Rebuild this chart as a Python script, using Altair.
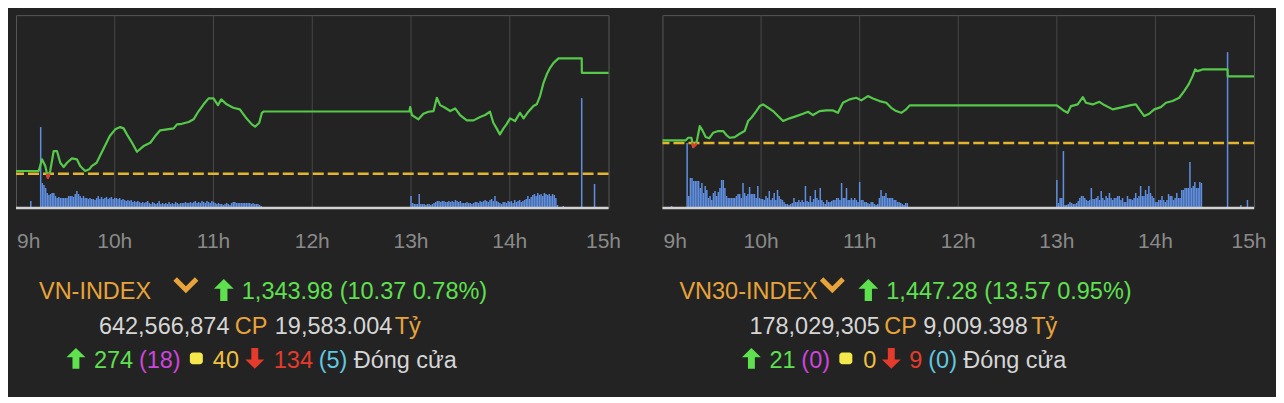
import altair as alt
import pandas as pd

BG = "#232323"
FONT = "Liberation Sans, DejaVu Sans, Arial, sans-serif"
HOURS = ["9h", "10h", "11h", "12h", "13h", "14h", "15h"]
TICKS = [0, 60, 120, 180, 240, 300, 360]   # minutes after 9:00

# ---------------- VN-INDEX ----------------
VN_REF = 1333.61
VN_T = [0, 13.8, 15.8, 17.8, 19.4, 20.8, 22.9, 24.9, 26.9, 29,
        31, 34, 37, 39, 42, 44.5, 46, 49, 51, 54,
        57, 60.3, 63.3, 65.4, 67.4, 70.5, 73.5, 77.5, 81.6, 84.6,
        87.6, 91.7, 95.8, 97.8, 100.8, 104.9, 107.9, 111, 114, 117,
        120, 122.7, 124.7, 128, 132, 136, 140, 143.3, 145.3, 147.8,
        149.4, 150.5, 239, 239.5, 240.5, 244.5, 247.5, 250.6, 253.7, 255.7,
        257.7, 260.7, 263.8, 266.8, 269.8, 273.9, 278, 282, 285, 288,
        290, 292, 294, 296.2, 298, 300.2, 303.2, 306.2, 308.4, 311.3,
        314.4, 316.4, 318.4, 320.5, 322.5, 324.5, 326.6, 329.6, 343.7, 343.8,
        360]
VN_V = [1333.89, 1333.89, 1335.09, 1334.4, 1333.2, 1333.89, 1335.94, 1335.94, 1334.74, 1334.3,
        1334.74, 1335.19, 1335.09, 1334.4, 1333.89, 1334.06, 1334.4, 1334.74, 1335.43, 1336.45,
        1337.48, 1338.17, 1338.4, 1338.27, 1337.65, 1336.79, 1335.87, 1336.45, 1336.79, 1337.48,
        1338.07, 1338.17, 1338.27, 1338.68, 1338.74, 1338.92, 1339.2, 1340.05, 1340.74, 1341.35,
        1341.35, 1340.66, 1341.25, 1340.74, 1340.39, 1340.22, 1339.3, 1338.68, 1338.44, 1338.85,
        1339.87, 1340.0, 1340.0, 1340.46, 1339.64, 1339.2, 1339.77, 1339.98, 1340.05, 1341.41,
        1340.66, 1340.39, 1340.05, 1340.32, 1339.64, 1339.09, 1339.09, 1339.43, 1339.64, 1339.98,
        1338.85, 1338.27, 1337.65, 1338.27, 1338.68, 1339.3, 1339.02, 1339.87, 1339.3, 1339.98,
        1340.56, 1340.74, 1341.59, 1342.95, 1343.82, 1344.49, 1345.0, 1345.46, 1345.46, 1343.98,
        1343.98]
VN_YDOM = [1330.09, 1349.9]
# volume per minute, 9:15 .. 11:29
VN_VOL_AM = [81, 25, 23, 20, 15, 13, 14, 15, 15, 12,
             10, 11, 10, 10, 10, 10, 10, 12, 12, 12,
             11, 14, 17, 14, 12, 10, 12, 10, 10, 9,
             10, 9, 9, 8, 10, 12, 9, 11, 9, 10,
             11, 9, 10, 11, 9, 10, 10, 9, 10, 8,
             9, 8, 7, 8, 7, 8, 6, 7, 6, 7,
             6, 5, 6, 5, 6, 7, 5, 4, 6, 5,
             4, 5, 7, 4, 5, 4, 5, 4, 6, 4,
             5, 4, 6, 5, 4, 5, 5, 5, 6, 5,
             5, 6, 5, 6, 7, 5, 6, 5, 7, 6,
             5, 7, 6, 5, 7, 6, 5, 4, 5, 4,
             4, 3, 4, 5, 4, 3, 5, 6, 6, 5,
             5, 5, 5, 5, 5, 5, 5, 5, 4, 5,
             4, 4, 4, 3, 2]
# volume per minute, 13:00 .. 14:29
VN_VOL_PM = [12, 5, 4, 4, 4, 14, 4, 4, 4, 3,
             4, 4, 3, 4, 5, 6, 7, 7, 6, 7,
             7, 6, 6, 7, 6, 7, 6, 8, 7, 6,
             7, 5, 5, 5, 6, 5, 5, 4, 5, 6,
             6, 5, 7, 6, 7, 8, 7, 6, 8, 9,
             7, 12, 7, 6, 5, 4, 6, 6, 5, 7,
             6, 7, 5, 8, 6, 7, 8, 6, 7, 8,
             9, 12, 9, 11, 13, 14, 12, 15, 13, 14,
             12, 15, 14, 13, 14, 12, 14, 13, 10, 3]
VN_VOL_XT = [9, 332.5, 343.7, 351.5]
VN_VOL_XV = [7, 2, 110, 24]

# ---------------- VN30-INDEX ----------------
V30_REF = 1433.71
V30_T = [0, 14.2, 15.6, 17.6, 18.7, 20.3, 21, 22.7, 24.3, 26.3,
         28.4, 30.8, 33.9, 36.9, 38.9, 40.9, 44, 47, 50, 52.1,
         54.1, 57.1, 59.2, 61.2, 64.3, 67.3, 70.3, 73.4, 77.4, 81.5,
         85.5, 88.6, 91.6, 95.6, 99.7, 103.8, 106.8, 109.8, 113.9, 117.9,
         121, 125, 128.1, 132.1, 136.2, 139.2, 142.2, 145.3, 148.3, 150.5,
         240, 244.6, 246.6, 248.6, 252.7, 255.8, 257.7, 261.8, 265.9, 268.9,
         274, 280.1, 285.1, 288.1, 290.2, 293.2, 296.2, 299.3, 303.3, 306.4,
         310.4, 314.5, 317.5, 320.2, 322.6, 324.2, 325.6, 328.7, 343.9, 344.0,
         360]
V30_V = [1434.26, 1434.26, 1434.79, 1434.79, 1432.9, 1433.45, 1434.26, 1437.17, 1436.29, 1434.93,
         1434.67, 1435.8, 1436.15, 1436.15, 1435.34, 1434.79, 1434.93, 1435.6, 1436.15, 1438.19,
         1438.86, 1440.22, 1441.24, 1441.58, 1440.89, 1440.22, 1439.2, 1438.19, 1438.74, 1439.2,
         1439.67, 1440.08, 1439.41, 1440.22, 1440.36, 1440.36, 1439.87, 1441.91, 1442.6, 1442.93,
         1442.4, 1443.27, 1442.8, 1442.26, 1441.91, 1440.89, 1440.22, 1439.87, 1440.57, 1441.38,
         1441.38, 1440.22, 1439.87, 1441.24, 1441.58, 1443.07, 1441.91, 1441.58, 1442.11, 1441.44,
         1440.57, 1441.03, 1441.44, 1441.58, 1440.57, 1439.2, 1439.67, 1440.57, 1441.03, 1441.91,
         1442.26, 1442.93, 1444.29, 1445.65, 1447.34, 1448.7, 1448.36, 1448.7, 1448.7, 1447.28,
         1447.28]
V30_YDOM = [1420.49, 1459.75]
V30_VOL_AM = [65, 12, 30, 30, 27, 27, 27, 27, 20, 25,
              15, 22, 18, 10, 12, 8, 15, 17, 12, 16,
              20, 28, 28, 20, 12, 10, 10, 10, 10, 10,
              12, 14, 14, 10, 25, 15, 12, 14, 21, 14,
              14, 14, 10, 22, 10, 9, 9, 8, 12, 10,
              17, 8, 10, 15, 8, 18, 12, 9, 8, 6,
              4, 4, 3, 4, 5, 10, 6, 6, 8, 6,
              8, 6, 22, 7, 6, 12, 6, 9, 18, 10,
              8, 20, 8, 6, 4, 8, 6, 6, 7, 8,
              8, 10, 10, 8, 25, 10, 10, 20, 8, 8,
              10, 8, 10, 8, 6, 26, 8, 8, 6, 6,
              5, 4, 6, 6, 4, 3, 4, 10, 18, 12,
              12, 15, 10, 10, 10, 10, 8, 8, 6, 6,
              5, 4, 3, 5, 5]
V30_VOL_PM = [28, 5, 10, 10, 57, 3, 3, 4, 6, 5,
              4, 4, 5, 7, 10, 12, 12, 10, 8, 7,
              8, 20, 9, 9, 10, 12, 8, 17, 10, 8,
              12, 10, 15, 10, 8, 10, 10, 12, 12, 8,
              10, 6, 6, 12, 9, 9, 8, 10, 15, 10,
              12, 22, 12, 12, 18, 14, 22, 15, 12, 10,
              6, 6, 8, 8, 12, 8, 6, 8, 14, 12,
              12, 8, 10, 15, 10, 10, 18, 18, 20, 20,
              20, 46, 20, 22, 26, 20, 20, 26, 25]
V30_VOL_XT = [5.5, 343.9, 352, 356]
V30_VOL_XV = [2, 156, 3, 8]

# ---------------- text rows ----------------
VN_TITLE = "VN-INDEX"
VN_PRICE = "1,343.98 (10.37 0.78%)"
VN_LINE2 = ["642,566,874", "CP", "19,583.004", "Tỷ"]
VN_LINE3 = ["274", "(18)", "40", "134", "(5)", "Đóng cửa"]
V30_TITLE = "VN30-INDEX"
V30_PRICE = "1,447.28 (13.57 0.95%)"
V30_LINE2 = ["178,029,305", "CP", "9,009.398", "Tỷ"]
V30_LINE3 = ["21", "(0)", "0", "9", "(0)", "Đóng cửa"]

ORANGE = "#e8a33a"
GREEN_T = "#5fe04f"
GREY_T = "#d6d6d6"
MAGENTA = "#d044de"
YELLOW_SQ = "#f4e84a"
YELLOW_T = "#f0c040"
RED = "#e53b2c"
CYAN = "#60c8e0"
LINE_GREEN = "#56c94b"
BAR_BLUE = "#5f8fe0"
REF_YELLOW = "#e2b52c"
AXIS_GREY = "#8a8a8a"

UP = "M0,-1 L0.9,-0.1 L0.33,-0.1 L0.33,1 L-0.33,1 L-0.33,-0.1 L-0.9,-0.1 Z"
DOWN = "M0,1 L0.9,0.1 L0.33,0.1 L0.33,-1 L-0.33,-1 L-0.33,0.1 L-0.9,0.1 Z"
CHEV = "M-1,-0.45 L-0.72,-0.73 L0,-0.01 L0.72,-0.73 L1,-0.45 L0,0.55 Z"

H = 193
TXT = 23.5
ONE = alt.Data(values=[{}])


def dip_rows(t, v, ref):
    rows = []
    for i in range(len(t)):
        if v[i] < ref:
            if i > 0 and v[i - 1] >= ref:
                t0, v0, t1, v1 = t[i - 1], v[i - 1], t[i], v[i]
                rows.append({"t": t0 + (ref - v0) * (t1 - t0) / (v1 - v0), "v": ref})
            rows.append({"t": t[i], "v": v[i]})
            if i + 1 < len(t) and v[i + 1] >= ref:
                t0, v0, t1, v1 = t[i], v[i], t[i + 1], v[i + 1]
                rows.append({"t": t0 + (ref - v0) * (t1 - t0) / (v1 - v0), "v": ref})
    return pd.DataFrame(rows)


def text_layer(txt, color, x, y):
    return alt.Chart(ONE).mark_text(
        text=txt, align="left", baseline="alphabetic", font=FONT,
        fontSize=TXT, color=color
    ).encode(x=alt.value(x), y=alt.value(y))


def shape_layer(path, color, x, y, size):
    return alt.Chart(ONE).mark_point(
        shape=path, filled=True, color=color, opacity=1, size=size, strokeWidth=0
    ).encode(x=alt.value(x), y=alt.value(y))


def square_layer(x0, x1, y0, y1):
    return alt.Chart(ONE).mark_rect(color=YELLOW_SQ, cornerRadius=3).encode(
        x=alt.value(x0), x2=alt.value(x1), y=alt.value(y0), y2=alt.value(y1))


def panel(width, ref, ydom, t, v, am, pm, xt, xv, title, price_txt, l2, l3, pos):
    xs = alt.Scale(domain=[0, 360], nice=False, zero=False)
    ys = alt.Scale(domain=ydom, nice=False, zero=False)
    price = pd.DataFrame({"t": t, "v": v})
    vol = pd.DataFrame({
        "t": list(range(15, 15 + len(am))) + list(range(240, 240 + len(pm))) + xt,
        "vol": am + pm + xv,
    })
    hours = pd.DataFrame({"t": TICKS, "label": HOURS})

    grid = alt.Chart(hours.iloc[1:-1]).mark_rule(color="#474747", strokeWidth=1).encode(
        x=alt.X("t:Q", scale=xs, axis=None))
    baseline = alt.Chart(ONE).mark_rule(color="#d2d2d2", strokeWidth=2.5).encode(
        x=alt.value(0), x2=alt.value(width), y=alt.value(H))
    lab_first = alt.Chart(hours.iloc[:1]).mark_text(
        align="left", baseline="alphabetic", font=FONT, fontSize=21, color=AXIS_GREY, dx=1
    ).encode(x=alt.X("t:Q", scale=xs, axis=None), y=alt.value(233), text="label:N")
    lab_mid = alt.Chart(hours.iloc[1:-1]).mark_text(
        align="center", baseline="alphabetic", font=FONT, fontSize=21, color=AXIS_GREY
    ).encode(x=alt.X("t:Q", scale=xs, axis=None), y=alt.value(233), text="label:N")
    lab_last = alt.Chart(hours.iloc[-1:]).mark_text(
        align="center", baseline="alphabetic", font=FONT, fontSize=21, color=AXIS_GREY, dx=-5
    ).encode(x=alt.X("t:Q", scale=xs, axis=None), y=alt.value(233), text="label:N")

    ref_rule = alt.Chart(ONE).mark_rule(
        color=REF_YELLOW, strokeWidth=2.6, strokeDash=[11, 4]
    ).encode(y=alt.Y(datum=ref, type="quantitative", scale=ys, axis=None))
    bars = alt.Chart(vol).mark_rule(color=BAR_BLUE, strokeWidth=1.5).encode(
        x=alt.X("t:Q", scale=xs, axis=None),
        y=alt.Y("vol:Q", scale=alt.Scale(domain=[0, H], nice=False), axis=None),
        y2=alt.datum(0),
    )
    line = alt.Chart(price).mark_line(
        color=LINE_GREEN, strokeWidth=2.2, strokeJoin="round"
    ).encode(
        x=alt.X("t:Q", scale=xs, axis=None),
        y=alt.Y("v:Q", scale=ys, axis=None),
        order="t:Q",
    )
    red = alt.Chart(dip_rows(t, v, ref)).mark_line(
        color=RED, strokeWidth=2.4, strokeJoin="round"
    ).encode(
        x=alt.X("t:Q", scale=xs, axis=None),
        y=alt.Y("v:Q", scale=ys, axis=None),
        order="t:Q",
    )
    y1, y2, y3 = 284, 319, 353
    layers = [grid, ref_rule, bars, baseline, line, red, lab_first, lab_mid, lab_last,
              text_layer(title, ORANGE, pos["title"], y1),
              shape_layer(CHEV, ORANGE, pos["chev"], 271.5, 625),
              shape_layer(UP, GREEN_T, pos["up1"], 275, 484),
              text_layer(price_txt, GREEN_T, pos["price"], y1),
              text_layer(l2[0], GREY_T, pos["l2"][0], y2),
              text_layer(l2[1], ORANGE, pos["l2"][1], y2),
              text_layer(l2[2], GREY_T, pos["l2"][2], y2),
              text_layer(l2[3], ORANGE, pos["l2"][3], y2),
              shape_layer(UP, GREEN_T, pos["up3"], 343.5, 441),
              text_layer(l3[0], GREEN_T, pos["l3"][0], y3),
              text_layer(l3[1], MAGENTA, pos["l3"][1], y3),
              square_layer(pos["sq"], pos["sq"] + 13, 337.5, 349.5),
              text_layer(l3[2], YELLOW_T, pos["l3"][2], y3),
              shape_layer(DOWN, RED, pos["down3"], 343.5, 441),
              text_layer(l3[3], RED, pos["l3"][3], y3),
              text_layer(l3[4], CYAN, pos["l3"][4], y3),
              text_layer(l3[5], GREY_T, pos["l3"][5], y3)]
    return alt.layer(*layers).resolve_scale(y="independent").properties(width=width, height=H)


VN_POS = {"title": 23, "chev": 170, "up1": 208, "price": 226,
          "l2": [83, 219, 259, 379],
          "up3": 60, "sq": 174, "down3": 239,
          "l3": [78, 123, 197, 258, 303, 338]}
V30_POS = {"title": 17, "chev": 170, "up1": 206, "price": 224,
           "l2": [87, 222, 261, 369],
           "up3": 89, "sq": 177, "down3": 229,
           "l3": [107, 139, 201, 247, 266, 301]}

left = panel(593, VN_REF, VN_YDOM, VN_T, VN_V, VN_VOL_AM, VN_VOL_PM, VN_VOL_XT, VN_VOL_XV,
             VN_TITLE, VN_PRICE, VN_LINE2, VN_LINE3, VN_POS)
right = panel(592, V30_REF, V30_YDOM, V30_T, V30_V, V30_VOL_AM, V30_VOL_PM, V30_VOL_XT, V30_VOL_XV,
              V30_TITLE, V30_PRICE, V30_LINE2, V30_LINE3, V30_POS)

chart = alt.hconcat(left, right, spacing=54, bounds="flush").properties(
    padding={"left": 6, "top": 6, "right": 8, "bottom": 24}
).configure(background=BG).configure_view(stroke="#575757", strokeWidth=1)

chart.save("out.html", embed_options={"renderer": "svg", "actions": False})
